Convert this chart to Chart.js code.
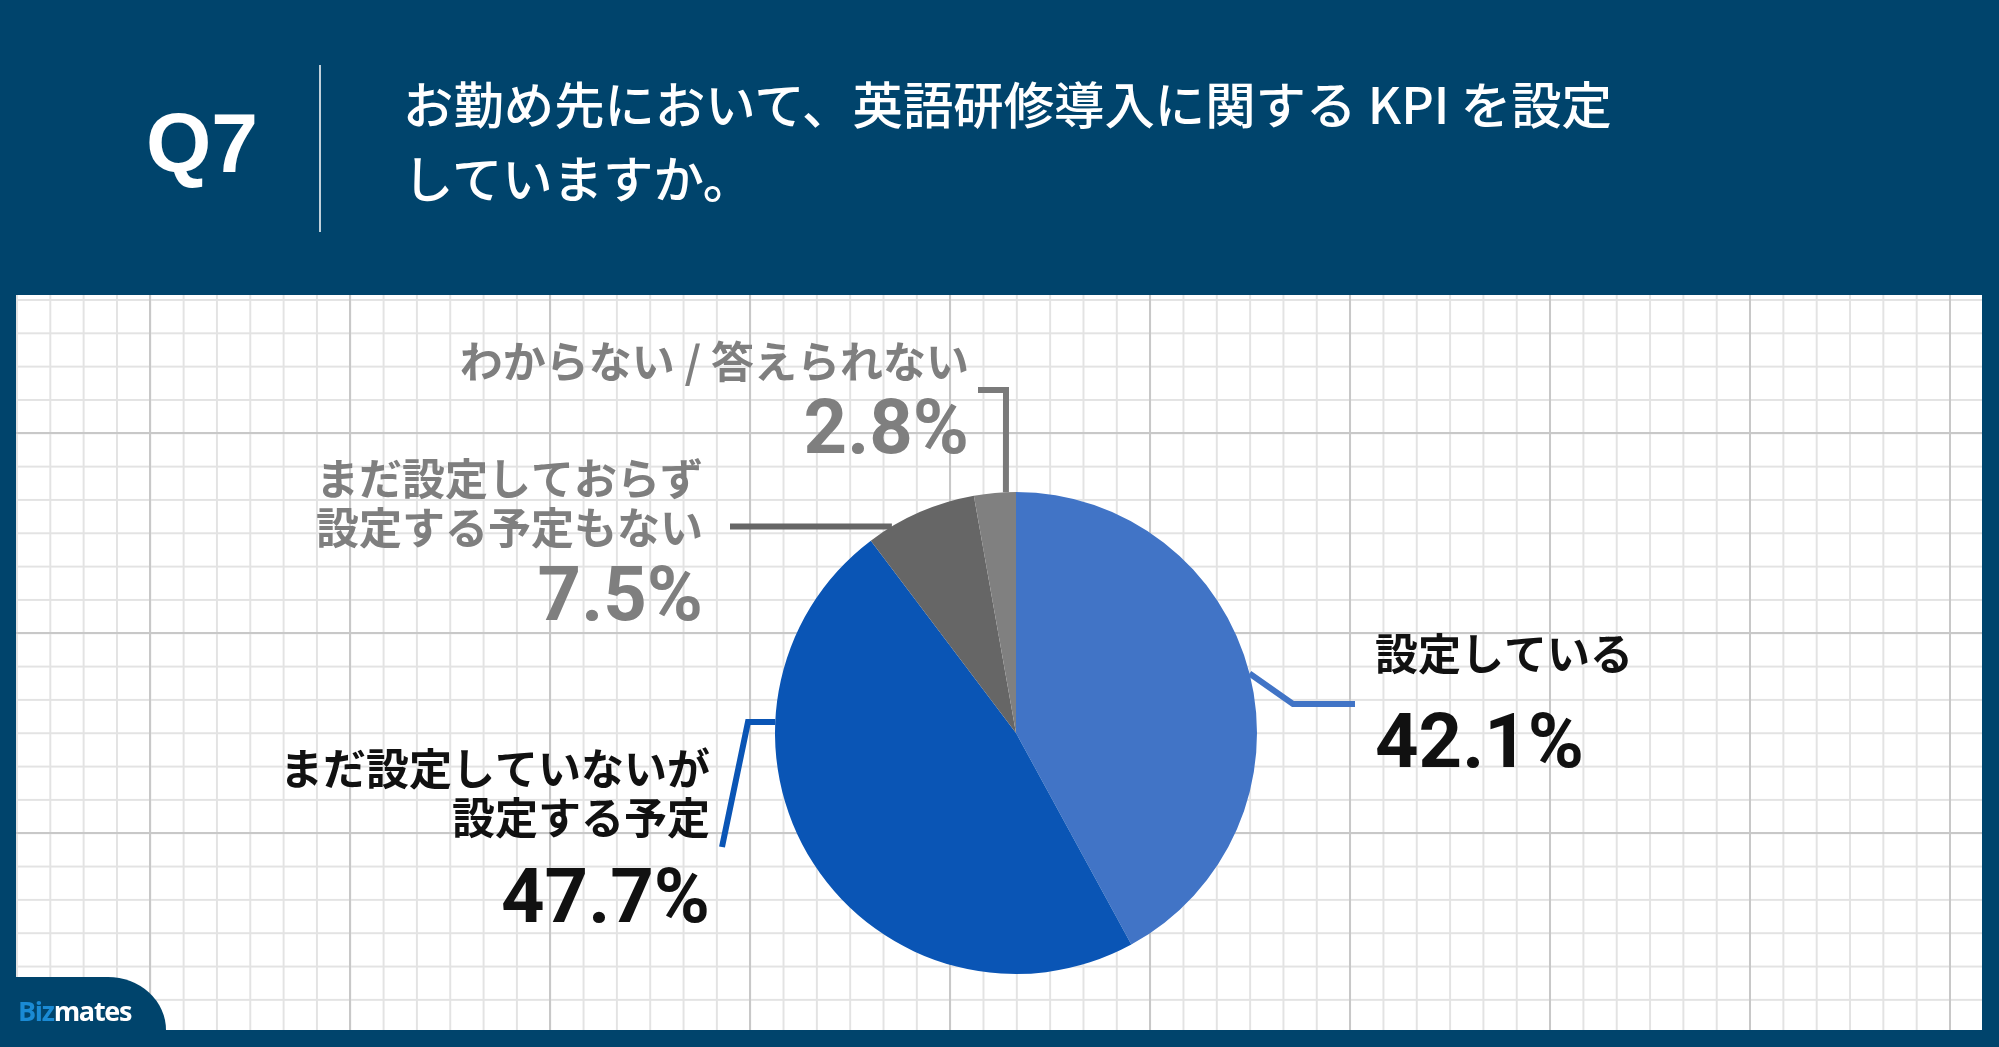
<!DOCTYPE html>
<html lang="ja">
<head>
<meta charset="utf-8">
<script src="https://cdn.jsdelivr.net/npm/chart.js@4.4.1/dist/chart.umd.min.js"></script>
<style>
  html, body { margin: 0; padding: 0; }
  body {
    width: 1999px; height: 1047px; overflow: hidden; position: relative;
    background: #00446c;
    font-family: "Noto Sans CJK JP", "Noto Sans", sans-serif;
  }
  #q {
    position: absolute; left: 146px; top: 101px;
    color: #fff; font: bold 84px/84px "Liberation Sans", Arial, sans-serif;
  }
  #divider {
    position: absolute; left: 319px; top: 65px; width: 2px; height: 167px;
    background: rgba(255, 255, 255, 0.75);
  }
  #title {
    position: absolute; left: 403px; top: 66px;
    color: #fff; font-size: 50.4px; font-weight: 500; line-height: 74px;
    white-space: nowrap;
  }
  #panel {
    position: absolute; left: 16px; top: 295px; width: 1966px; height: 735px;
    background-color: #fff;
    background-image:
      linear-gradient(to right, #c8c8c8 0 2px, transparent 2px),
      linear-gradient(to bottom, #c8c8c8 0 2px, transparent 2px),
      linear-gradient(to right, #e3e3e3 0 2px, transparent 2px),
      linear-gradient(to bottom, #e3e3e3 0 2px, transparent 2px);
    background-size: 200px 100%, 100% 200px, 33.333px 100%, 100% 33.333px;
    background-position: 133px 0, 0 137px, 0 0, 0 4px;
  }
  #chart { position: absolute; left: 0; top: 0; }
  #logo {
    position: absolute; left: 0; top: 977px; width: 166px; height: 70px;
    background: #00446c; border-top-right-radius: 58px 53px;
  }
  #logo span.b { color: #1a8ad4; }
  #logo div {
    position: absolute; left: 18px; top: 15px;
    font: 700 27px "Open Sans", sans-serif; letter-spacing: -1.3px; color: #fff;
  }
</style>
</head>
<body>
<div id="q">Q7</div>
<div id="divider"></div>
<div id="title">お勤め先において、英語研修導入に関する KPI を設定<br>していますか。</div>
<div id="panel"><canvas id="chart" width="1966" height="735"></canvas></div>
<div id="logo"><div><span class="b">Biz</span>mates</div></div>

<script>
// data
const labels = ['設定している', 'まだ設定していないが設定する予定', 'まだ設定しておらず設定する予定もない', 'わからない / 答えられない'];
const values = [42.1, 47.7, 7.5, 2.8];
const colors = ['#4174c6', '#0a55b5', '#666666', '#808080'];
const labelLines = [
    ['設定している'],
    ['まだ設定していないが', '設定する予定'],
    ['まだ設定しておらず', '設定する予定もない'],
    ['わからない / 答えられない']
];

// callout layout, px relative to the pie centre
const callouts = [
    { angle: null, path: [[277, -29], [339, -29]], line: '#4174c6', text: '#111111', align: 'left', tx: 359, ty: [-63], vy: 34 },
    { angle: 272.6, path: [[-268, -11], [-294, 114]], line: '#0a55b5', text: '#111111', align: 'right', tx: -306, ty: [52, 101], vy: 189 },
    { angle: 329, path: [[-286, -206.6]], line: '#666666', text: '#7f7f7f', align: 'right', tx: -313, ty: [-238, -189], vy: -113 },
    { angle: 357.6, path: [[-10, -343], [-38, -343]], line: '#7a7a7a', text: '#7f7f7f', align: 'right', tx: -47, ty: [-355], vy: -280 }
];

const calloutPlugin = {
    id: 'callouts',
    afterDatasetsDraw(chart) {
        const ctx = chart.ctx;
        const arcs = chart.getDatasetMeta(0).data;
        arcs.forEach((arc, i) => {
            const c = callouts[i];
            const p = arc.getProps(['x', 'y', 'outerRadius', 'startAngle', 'endAngle'], true);
            const a = c.angle === null ? (p.startAngle + p.endAngle) / 2 : (c.angle - 90) * Math.PI / 180;
            ctx.save();
            ctx.strokeStyle = c.line;
            ctx.lineWidth = 6;
            ctx.lineJoin = 'miter';
            ctx.beginPath();
            ctx.moveTo(p.x + p.outerRadius * Math.cos(a), p.y + p.outerRadius * Math.sin(a));
            c.path.forEach(pt => ctx.lineTo(p.x + pt[0], p.y + pt[1]));
            ctx.stroke();

            ctx.fillStyle = c.text;
            ctx.textAlign = c.align;
            ctx.textBaseline = 'alphabetic';
            ctx.font = 'bold 43px "Noto Sans CJK JP", sans-serif';
            labelLines[i].forEach((t, k) => ctx.fillText(t, p.x + c.tx, p.y + c.ty[k]));
            ctx.font = 'bold 76px Roboto, sans-serif';
            ctx.fillText(values[i].toFixed(1) + '%', p.x + c.tx, p.y + c.vy);
            ctx.restore();
        });
    }
};

new Chart(document.getElementById('chart'), {
    type: 'pie',
    data: {
        labels: labels,
        datasets: [{
            data: values,
            backgroundColor: colors,
            borderWidth: 0,
            hoverOffset: 0
        }]
    },
    options: {
        responsive: false,
        animation: false,
        devicePixelRatio: 1,
        layout: { padding: { left: 759, right: 725, top: 197, bottom: 56 } },
        plugins: {
            legend: { display: false },
            tooltip: { enabled: false }
        }
    },
    plugins: [calloutPlugin]
});
</script>
</body>
</html>
